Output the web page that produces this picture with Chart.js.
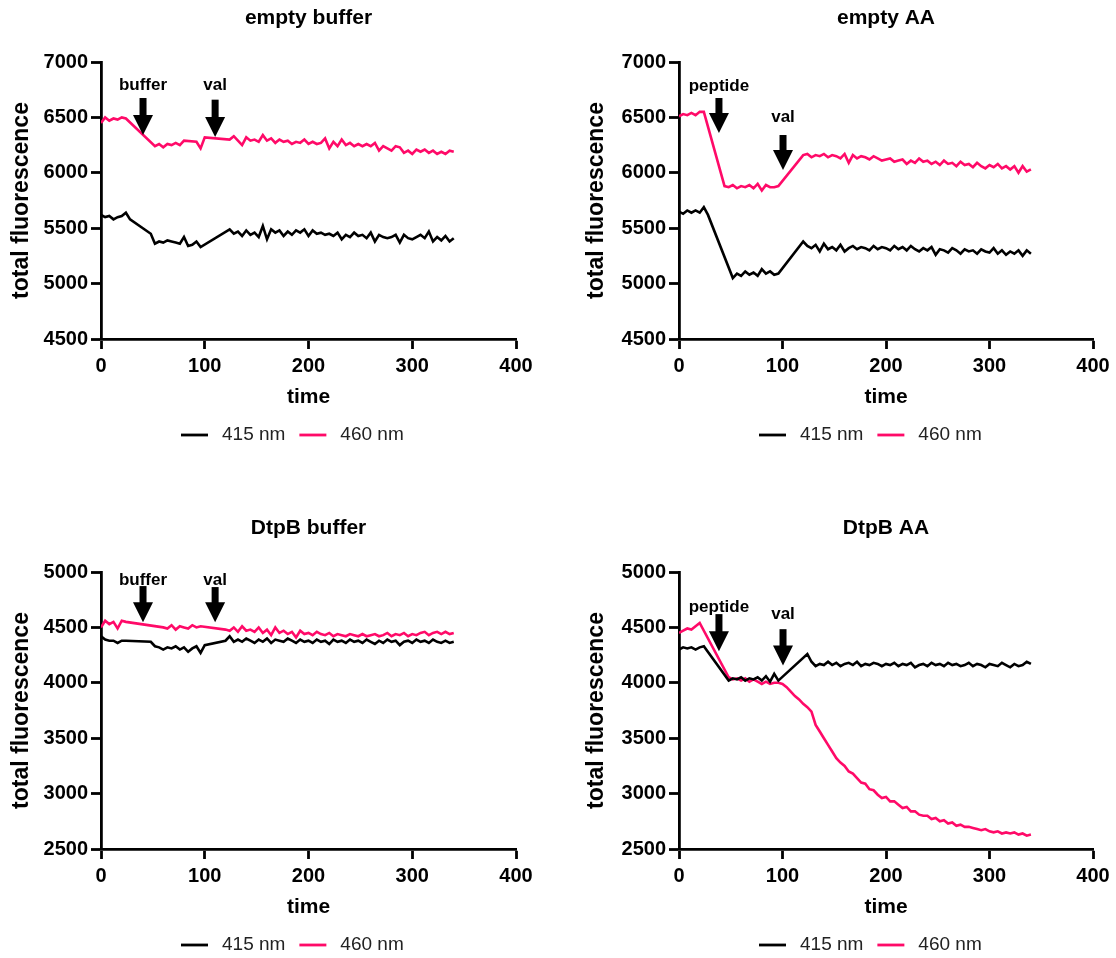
<!DOCTYPE html>
<html>
<head>
<meta charset="utf-8">
<script src="https://cdn.jsdelivr.net/npm/chart.js@4.4.1/dist/chart.umd.min.js"></script>
<style>
  html, body { margin: 0; padding: 0; background: #fff; overflow: hidden; }
  #page { position: relative; width: 1116px; height: 958px; overflow: hidden; background: #fff; }
  canvas { position: absolute; }
</style>
</head>
<body>
<div id="page">
  <canvas id="emptyBuffer" width="558" height="450" style="left:0;top:0"></canvas>
  <canvas id="emptyAA" width="558" height="450" style="left:558px;top:0"></canvas>
  <canvas id="dtpbBuffer" width="558" height="450" style="left:0;top:510px"></canvas>
  <canvas id="dtpbAA" width="558" height="450" style="left:558px;top:510px"></canvas>
</div>
<script>
// sampling times (s), shared by every trace; null = no reading (line is bridged)
const times = [
  0, 4, 8, 12, 16, 20, 24, 28, 32, 36,
  40, 44, 48, 52, 56, 60, 64, 68, 72, 76,
  80, 84, 88, 92, 96, 100, 104, 108, 112, 116,
  120, 124, 128, 132, 136, 140, 144, 148, 152, 156,
  160, 164, 168, 172, 176, 180, 184, 188, 192, 196,
  200, 204, 208, 212, 216, 220, 224, 228, 232, 236,
  240, 244, 248, 252, 256, 260, 264, 268, 272, 276,
  280, 284, 288, 292, 296, 300, 304, 308, 312, 316,
  320, 324, 328, 332, 336, 340
];

const seriesNames = ['415 nm', '460 nm'];

// empty buffer
const emptyBuffer415 = [
  5620, 5600, 5610, 5580, 5600, 5610, 5640, 5580, null, null,
  null, null, 5450, 5360, 5380, 5370, 5390, 5380, 5370, 5360,
  5420, 5340, 5350, 5380, 5330, null, null, null, null, null,
  null, 5490, 5450, 5470, 5430, 5480, 5440, 5460, 5420, 5520,
  5400, 5490, 5460, 5480, 5430, 5470, 5440, 5480, 5460, 5490,
  5430, 5480, 5450, 5460, 5440, 5450, 5430, 5460, 5400, 5440,
  5420, 5460, 5430, 5440, 5410, 5460, 5380, 5440, 5420, 5410,
  5420, 5440, 5370, 5440, 5410, 5400, 5420, 5440, 5410, 5470,
  5380, 5420, 5390, 5430, 5380, 5410
];
const emptyBuffer460 = [
  6450, 6500, 6470, 6490, 6480, 6500, 6490, null, null, null,
  null, null, null, 6240, 6260, 6230, 6260, 6250, 6270, 6250,
  6290, null, null, 6280, 6220, 6320, null, null, null, null,
  null, 6300, 6330, 6290, 6250, 6320, 6290, 6300, 6280, 6340,
  6290, 6310, 6270, 6300, 6280, 6290, 6260, 6280, 6270, 6300,
  6260, 6280, 6260, 6270, 6310, 6220, 6280, 6240, 6300, 6250,
  6270, 6240, 6260, 6240, 6260, 6240, 6270, 6200, 6240, 6220,
  6200, 6240, 6230, 6180, 6200, 6170, 6210, 6190, 6210, 6180,
  6200, 6170, 6190, 6170, 6200, 6190
];

// empty AA
const emptyAA415 = [
  5650, 5630, 5660, 5640, 5660, 5640, 5690, 5620, null, null,
  null, null, null, 5050, 5090, 5070, 5110, 5080, 5100, 5070,
  5130, 5090, 5110, 5080, 5090, null, null, null, null, null,
  5380, 5340, 5320, 5350, 5290, 5360, 5310, 5330, 5300, 5350,
  5290, 5320, 5340, 5310, 5330, 5320, 5300, 5340, 5310, 5330,
  5320, 5300, 5340, 5310, 5330, 5300, 5340, 5310, 5290, 5320,
  5300, 5330, 5260, 5310, 5300, 5280, 5320, 5300, 5270, 5310,
  5290, 5300, 5270, 5310, 5290, 5280, 5320, 5270, 5300, 5260,
  5290, 5270, 5300, 5250, 5300, 5270
];
const emptyAA460 = [
  6510, 6530, 6520, 6540, 6520, 6550, 6550, null, null, null,
  null, 5880, 5870, 5890, 5860, 5880, 5870, 5890, 5860, 5900,
  5840, 5890, 5870, 5870, 5880, null, null, null, null, null,
  6160, 6170, 6140, 6160, 6150, 6170, 6140, 6160, 6150, 6130,
  6170, 6090, 6160, 6130, 6150, 6140, 6120, 6150, 6130, 6110,
  6120, 6130, 6100, 6110, 6120, 6080, 6110, 6090, 6130, 6100,
  6110, 6080, 6100, 6070, 6110, 6080, 6090, 6060, 6100, 6070,
  6080, 6050, 6090, 6060, 6040, 6070, 6050, 6080, 6040, 6060,
  6030, 6060, 6000, 6060, 6010, 6030
];

// DtpB buffer
const dtpbBuffer415 = [
  4420, 4390, 4380, 4380, 4360, 4380, 4380, null, null, null,
  null, null, 4370, 4330, 4320, 4300, 4320, 4310, 4330, 4300,
  4320, 4280, 4310, 4330, 4270, 4340, null, null, null, null,
  4380, 4420, 4370, 4390, 4370, 4400, 4380, 4360, 4390, 4370,
  4400, 4360, 4390, 4380, 4370, 4400, 4380, 4360, 4390, 4370,
  4380, 4360, 4390, 4370, 4380, 4350, 4390, 4370, 4380, 4360,
  4390, 4370, 4380, 4360, 4390, 4370, 4350, 4380, 4360, 4390,
  4370, 4380, 4340, 4370, 4380, 4360, 4390, 4370, 4380, 4360,
  4390, 4370, 4360, 4380, 4360, 4370
];
const dtpbBuffer460 = [
  4500, 4560, 4530, 4550, 4490, 4560, 4550, null, null, null,
  null, null, null, null, null, 4500, 4490, 4520, 4480, 4510,
  4500, 4490, 4520, 4500, 4510, null, null, null, null, null,
  4480, 4470, 4500, 4460, 4510, 4470, 4480, 4460, 4500, 4450,
  4480, 4430, 4500, 4450, 4470, 4440, 4460, 4410, 4470, 4440,
  4450, 4430, 4460, 4440, 4430, 4450, 4420, 4440, 4430, 4420,
  4440, 4430, 4420, 4440, 4420, 4430, 4440, 4420, 4430, 4450,
  4420, 4440, 4430, 4450, 4420, 4440, 4430, 4450, 4460, 4430,
  4450, 4460, 4440, 4460, 4440, 4450
];

// DtpB AA
const dtpbAA415 = [
  4300, 4320, 4310, 4320, 4300, 4320, 4330, null, null, null,
  null, null, 4020, 4040, 4030, 4050, 4020, 4040, 4030, 4050,
  4020, 4060, 4010, 4080, 4020, null, null, null, null, null,
  null, 4260, 4190, 4150, 4170, 4160, 4190, 4160, 4180, 4150,
  4170, 4180, 4160, 4190, 4150, 4170, 4160, 4180, 4170, 4150,
  4170, 4160, 4180, 4150, 4170, 4160, 4180, 4140, 4160, 4170,
  4150, 4180, 4160, 4170, 4150, 4180, 4160, 4170, 4150, 4160,
  4180, 4150, 4170, 4160, 4140, 4170, 4160, 4150, 4180, 4160,
  4140, 4170, 4150, 4160, 4190, 4170
];
const dtpbAA460 = [
  4450, 4470, 4490, 4480, 4510, 4540, null, null, null, null,
  null, null, 4050, 4030, 4040, 4020, 4040, 4010, 4030, 4010,
  3990, 4010, 3990, 4000, 4000, 3990, 3960, 3920, 3880, 3850,
  3810, 3780, 3740, 3620, 3560, 3500, 3440, 3380, 3320, 3280,
  3250, 3200, 3180, 3140, 3100, 3090, 3040, 3030, 2990, 2960,
  2970, 2930, 2930, 2900, 2870, 2880, 2840, 2840, 2810, 2800,
  2800, 2770, 2780, 2750, 2760, 2730, 2740, 2710, 2720, 2700,
  2700, 2690, 2680, 2670, 2680, 2660, 2650, 2660, 2640, 2650,
  2640, 2650, 2630, 2640, 2620, 2630
];

// additions marked with arrows (time, arrow top, arrow tip, label height - all in data units)
const emptyBufferMarks = [
  { label: 'buffer', t: 40.5, top: 6675, tip: 6341, text: 6790 },
  { label: 'val', t: 110, top: 6660, tip: 6323, text: 6790 }
];
const emptyAAMarks = [
  { label: 'peptide', t: 38.6, top: 6675, tip: 6359, text: 6783 },
  { label: 'val', t: 100.5, top: 6341, tip: 6025, text: 6504 }
];
const dtpbBufferMarks = [
  { label: 'buffer', t: 40.5, top: 4873, tip: 4547, text: 4928 },
  { label: 'val', t: 110, top: 4864, tip: 4547, text: 4928 }
];
const dtpbAAMarks = [
  { label: 'peptide', t: 38.6, top: 4620, tip: 4285, text: 4683 },
  { label: 'val', t: 100.5, top: 4484, tip: 4157, text: 4620 }
];

const FONT = '"Liberation Sans", Arial, Helvetica, sans-serif';
Chart.defaults.font.family = FONT;
Chart.defaults.color = '#000';

const BLACK = '#000000';
const PINK = '#ff0a68';

// inline plugin: black down arrows with bold labels, plus the line legend under the axis
function panelDecor(marks) {
    return {
        id: 'panelDecor',
        afterDatasetsDraw(chart) {
            const { ctx, scales: { x, y } } = chart;
            marks.forEach(m => {
                const px = x.getPixelForValue(m.t);
                const top = y.getPixelForValue(m.top);
                const tip = y.getPixelForValue(m.tip);
                const head = 20;
                ctx.save();
                ctx.fillStyle = '#000';
                ctx.fillRect(px - 3.5, top, 7, tip - head - top + 1);
                ctx.beginPath();
                ctx.moveTo(px - 10, tip - head);
                ctx.lineTo(px + 10, tip - head);
                ctx.lineTo(px, tip);
                ctx.closePath();
                ctx.fill();
                ctx.font = 'bold 17px ' + FONT;
                ctx.textAlign = 'center';
                ctx.textBaseline = 'middle';
                ctx.fillText(m.label, px, y.getPixelForValue(m.text));
                ctx.restore();
            });
        },
        afterDraw(chart) {
            const { ctx, chartArea } = chart;
            let lx = chartArea.left + 80;
            const ly = chartArea.bottom + 96;
            ctx.save();
            ctx.font = '19px ' + FONT;
            ctx.textBaseline = 'middle';
            ctx.textAlign = 'left';
            chart.data.datasets.forEach(ds => {
                ctx.strokeStyle = ds.borderColor;
                ctx.lineWidth = 2.8;
                ctx.beginPath();
                ctx.moveTo(lx, ly);
                ctx.lineTo(lx + 27, ly);
                ctx.stroke();
                lx += 27 + 14;
                ctx.fillStyle = '#222';
                ctx.fillText(ds.label, lx, ly);
                lx += ctx.measureText(ds.label).width + 14;
            });
            ctx.restore();
        }
    };
}

function toPoints(values) {
    return values.map((v, i) => ({ x: times[i], y: v }));
}

// one panel = one chart
function makePanel(canvasId, title, s415, s460, yMin, yMax, marks, side) {
    const left = side === 'left';
    new Chart(document.getElementById(canvasId), {
        type: 'line',
        data: {
            datasets: [
                { label: seriesNames[0], data: toPoints(s415), borderColor: BLACK, backgroundColor: BLACK, borderWidth: 2.6 },
                { label: seriesNames[1], data: toPoints(s460), borderColor: PINK, backgroundColor: PINK, borderWidth: 2.6 }
            ]
        },
        options: {
            responsive: false,
            animation: false,
            devicePixelRatio: 1,
            spanGaps: true,
            elements: { point: { radius: 0 }, line: { tension: 0 } },
            layout: { padding: { left: 0, right: left ? 42 : 23, top: 0, bottom: 40 } },
            scales: {
                x: {
                    type: 'linear', min: 0, max: 400,
                    ticks: { stepSize: 100, padding: 5, color: '#000', font: { size: 20, weight: 'bold' }, callback: v => String(v) },
                    grid: { drawOnChartArea: false, drawTicks: true, tickLength: 10, tickWidth: 2.8, tickColor: '#000' },
                    border: { color: '#000', width: 2.8 },
                    title: { display: true, text: 'time', color: '#000', font: { size: 21, weight: 'bold' }, padding: { top: 0, bottom: 0 } },
                    afterFit(scale) { scale.height = 71; }
                },
                y: {
                    min: yMin, max: yMax,
                    ticks: { stepSize: 500, padding: 3, color: '#000', font: { size: 20, weight: 'bold' }, callback: v => String(v) },
                    grid: { drawOnChartArea: false, drawTicks: true, tickLength: 10, tickWidth: 2.8, tickColor: '#000' },
                    border: { color: '#000', width: 2.8 },
                    title: { display: true, text: 'total fluorescence', color: '#000', font: { size: 23, weight: 'bold' }, padding: { top: left ? 8 : 25, bottom: 0 } },
                    afterFit(scale) { scale.width = left ? 101 : 121; }
                }
            },
            plugins: {
                title: {
                    display: true, text: title, fullSize: false, color: '#000',
                    font: { size: 21, weight: 'bold' },
                    padding: { top: 6, bottom: 30.8 }
                },
                legend: { display: false },
                tooltip: { enabled: false }
            }
        },
        plugins: [panelDecor(marks)]
    });
}

makePanel('emptyBuffer', 'empty buffer', emptyBuffer415, emptyBuffer460, 4500, 7000, emptyBufferMarks, 'left');
makePanel('emptyAA', 'empty AA', emptyAA415, emptyAA460, 4500, 7000, emptyAAMarks, 'right');
makePanel('dtpbBuffer', 'DtpB buffer', dtpbBuffer415, dtpbBuffer460, 2500, 5000, dtpbBufferMarks, 'left');
makePanel('dtpbAA', 'DtpB AA', dtpbAA415, dtpbAA460, 2500, 5000, dtpbAAMarks, 'right');
</script>
</body>
</html>
